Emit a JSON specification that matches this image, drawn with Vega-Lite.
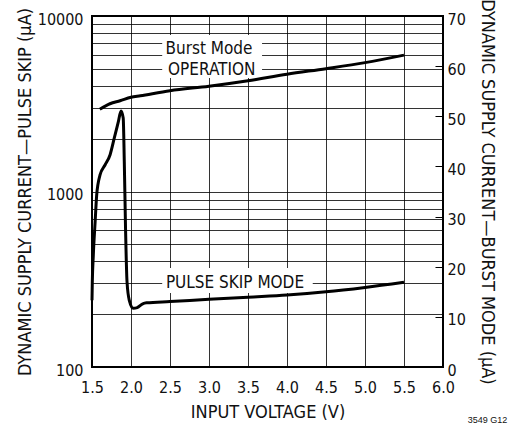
{
  "$schema": "https://vega.github.io/schema/vega-lite/v6.json",
  "width": 351,
  "height": 351,
  "autosize": {"type": "none"},
  "padding": {"left": 92, "top": 16, "right": 66, "bottom": 60},
  "background": "white",
  "config": {
    "font": "DejaVu Sans Condensed",
    "view": {"stroke": "#000", "strokeWidth": 2},
    "axis": {
      "labelFont": "DejaVu Sans Condensed",
      "labelFontSize": 16,
      "labelColor": "#111",
      "titleFont": "DejaVu Sans Condensed",
      "titleFontSize": 18,
      "titleFontWeight": "normal",
      "titleColor": "#111",
      "domain": false,
      "ticks": false,
      "gridColor": "#000",
      "gridOpacity": 0.8,
      "gridWidth": 1,
      "labelBound": false,
      "labelFlush": false
    }
  },
  "title": {
    "text": "3549 G12",
    "orient": "bottom",
    "anchor": "end",
    "font": "Liberation Sans",
    "fontSize": 9,
    "fontWeight": "normal",
    "color": "#111",
    "offset": 0,
    "dx": 12,
    "dy": -5
  },
  "datasets": {
    "pulse": [
      {"v": 1.5, "i": 240},
      {"v": 1.504, "i": 305},
      {"v": 1.517, "i": 435},
      {"v": 1.54, "i": 670},
      {"v": 1.56, "i": 955},
      {"v": 1.603, "i": 1242},
      {"v": 1.667, "i": 1416},
      {"v": 1.731, "i": 1615},
      {"v": 1.786, "i": 2018},
      {"v": 1.838, "i": 2500},
      {"v": 1.872, "i": 2877},
      {"v": 1.9, "i": 2625},
      {"v": 1.914, "i": 1480},
      {"v": 1.93, "i": 616},
      {"v": 1.949, "i": 306},
      {"v": 1.978, "i": 240},
      {"v": 2.03, "i": 216},
      {"v": 2.08, "i": 218},
      {"v": 2.15, "i": 229},
      {"v": 2.2, "i": 232},
      {"v": 2.5, "i": 236},
      {"v": 3.0, "i": 243},
      {"v": 3.5, "i": 250},
      {"v": 4.0, "i": 257},
      {"v": 4.5, "i": 268},
      {"v": 5.0, "i": 284},
      {"v": 5.5, "i": 304}
    ],
    "burst": [
      {"v": 1.6, "i": 51.4},
      {"v": 1.73, "i": 52.5},
      {"v": 1.86, "i": 53.1},
      {"v": 2.0, "i": 53.8},
      {"v": 2.12, "i": 54.1},
      {"v": 2.5, "i": 55.1},
      {"v": 3.0, "i": 56.0},
      {"v": 3.5, "i": 57.1},
      {"v": 4.0, "i": 58.4},
      {"v": 4.5, "i": 59.5},
      {"v": 5.0, "i": 60.7},
      {"v": 5.5, "i": 62.2}
    ],
    "masks": [
      {"x1": 2.4, "x2": 3.68, "y1": 4440, "y2": 7800},
      {"x1": 2.4, "x2": 4.33, "y1": 264, "y2": 366}
    ],
    "labels": [
      {"label": "Burst Mode", "v": 3.0, "i": 6055},
      {"label": "OPERATION", "v": 3.035, "i": 4614},
      {"label": "PULSE SKIP MODE", "v": 3.333, "i": 281}
    ]
  },
  "layer": [
    {
      "layer": [
        {
          "data": {"name": "masks"},
          "mark": {"type": "rect", "fill": "white", "stroke": null},
          "encoding": {
            "x": {
              "field": "x1",
              "type": "quantitative",
              "scale": {"domain": [1.5, 6.0], "nice": false, "zero": false},
              "axis": {
                "tickCount": 9,
                "format": ".1f",
                "labelOverlap": false,
                "labelSeparation": 0,
                "title": "INPUT VOLTAGE (V)",
                "labelPadding": 12,
                "titlePadding": 8
              }
            },
            "x2": {"field": "x2"},
            "y": {
              "field": "y1",
              "type": "quantitative",
              "scale": {"type": "log", "domain": [100, 10000], "nice": false},
              "axis": {
                "values": [100, 200, 300, 400, 500, 600, 700, 800, 900, 1000, 2000, 3000, 4000, 5000, 6000, 7000, 8000, 9000, 10000],
                "format": "d",
                "labelOverlap": false,
                "labelExpr": "indexof([100, 1000, 10000], datum.value) >= 0 ? datum.label : ''",
                "title": "DYNAMIC SUPPLY CURRENT—PULSE SKIP (µA)",
                "labelPadding": 9,
                "labelOffset": 3,
                "titlePadding": 3
              }
            },
            "y2": {"field": "y2"}
          }
        },
        {
          "data": {"name": "labels"},
          "mark": {"type": "text", "font": "DejaVu Sans Condensed", "fontSize": 17, "align": "center", "baseline": "alphabetic", "color": "#111"},
          "encoding": {
            "x": {"field": "v", "type": "quantitative"},
            "y": {"field": "i", "type": "quantitative"},
            "text": {"field": "label"}
          }
        },
        {
          "data": {"name": "pulse"},
          "mark": {"type": "line", "color": "#000", "strokeWidth": 3, "interpolate": "monotone"},
          "encoding": {
            "x": {"field": "v", "type": "quantitative"},
            "y": {"field": "i", "type": "quantitative"}
          }
        }
      ]
    },
    {
      "data": {"name": "burst"},
      "mark": {"type": "line", "color": "#000", "strokeWidth": 3, "interpolate": "monotone"},
      "encoding": {
        "x": {"field": "v", "type": "quantitative"},
        "y": {
          "field": "i",
          "type": "quantitative",
          "scale": {"domain": [0, 70], "nice": false, "zero": false},
          "axis": {
            "orient": "right",
            "values": [0, 10, 20, 30, 40, 50, 60, 70],
            "grid": false,
            "ticks": true,
            "tickSize": -8,
            "tickColor": "#000",
            "tickWidth": 1,
            "labelPadding": 12,
            "labelOffset": 3,
            "labelOverlap": false,
            "title": "DYNAMIC SUPPLY CURRENT—BURST MODE (µA)",
            "titlePadding": 12
          }
        }
      }
    }
  ],
  "resolve": {"scale": {"y": "independent"}}
}
